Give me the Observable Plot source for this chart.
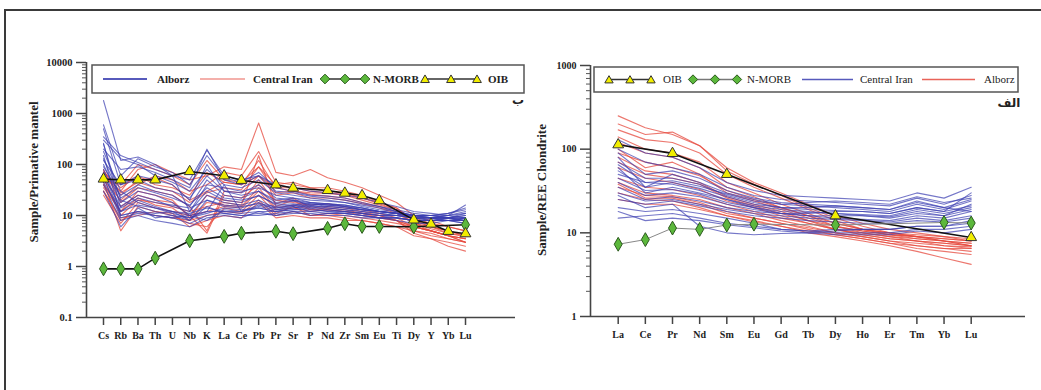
<!DOCTYPE html>
<html><head><meta charset="utf-8">
<script src="https://cdn.jsdelivr.net/npm/d3@7"></script>
<script src="https://cdn.jsdelivr.net/npm/@observablehq/plot@0.6"></script>
<style>
body{margin:0;background:#fff;width:1041px;height:390px;overflow:hidden;position:relative;font-family:"Liberation Serif","Times New Roman",serif}
#frame{position:absolute;left:4px;top:9px;width:1100px;height:500px;border-top:2px solid #3a3a3a;border-left:2px solid #3a3a3a}
.panel{position:absolute;top:40px}
.panel svg text{font-weight:bold}
.ytitle{position:absolute;font-weight:bold;font-size:13px;white-space:nowrap;transform:translate(-50%,-50%) rotate(-90deg);color:#222}
.ar{position:absolute;font-family:"DejaVu Sans",sans-serif;font-weight:bold;font-size:12px;color:#222;transform:translate(-50%,-50%)}
.leg{position:absolute}
</style></head>
<body>
<div id="frame"></div>
<div id="left" class="panel" style="left:0px"></div>
<div id="right" class="panel" style="left:520px"></div>
<div class="ytitle" style="left:34px;top:172px">Sample/Primative mantel</div>
<div class="ytitle" style="left:542px;top:190px">Sample/REE Chondrite</div>
<div class="ar" style="left:518px;top:100px">ب</div>
<div class="ar" style="left:1009px;top:103px">الف</div>
<script>
// ---------- DATA ----------
const leftCats = ["Cs","Rb","Ba","Th","U","Nb","K","La","Ce","Pb","Pr","Sr","P","Nd","Zr","Sm","Eu","Ti","Dy","Y","Yb","Lu"];
const rightCats = ["La","Ce","Pr","Nd","Sm","Eu","Gd","Tb","Dy","Ho","Er","Tm","Yb","Lu"];

// Left: primitive-mantle normalised, Alborz (blue)
const alborzLeft = [
  [1800,120,140,100,60,50,190,60,50,60,40,35,30,28,25,22,18,15,12,11,10,9],
  [600,60,130,90,70,40,150,55,45,70,35,30,25,24,22,18,15,12,10,9,9,8],
  [300,130,100,60,45,30,80,40,35,50,28,25,22,20,18,16,14,12,10,9,8,8],
  [250,20,15,12,10,9,12,40,12,14,12,14,15,13,12,11,10,10,9,9,10,12],
  [150,10,12,10,9,10,12,12,11,12,12,13,14,12,11,10,9,9,8,8,9,10],
  [80,12,20,15,12,8,20,15,14,18,13,15,12,13,12,11,10,9,8,8,8,7],
  [120,40,60,50,40,20,100,30,28,40,22,20,18,17,16,14,12,11,9,8,8,7],
  [60,15,25,20,15,12,30,20,18,25,16,17,15,15,14,13,12,11,10,10,11,14],
  [200,80,90,70,50,35,200,50,40,60,30,28,24,22,20,17,15,13,11,10,9,8],
  [40,8,10,8,7,6,9,10,9,12,10,11,11,10,10,9,9,8,7,7,8,9],
  [90,25,40,30,25,15,50,25,22,30,18,20,16,17,15,14,12,11,10,9,9,8],
  [350,150,110,80,60,12,40,35,30,35,25,22,20,19,18,15,13,12,10,10,9,9],
  [70,10,12,11,12,10,8,13,12,15,13,14,16,14,13,12,11,10,9,9,10,16],
  [500,40,50,35,30,22,60,30,25,30,20,22,18,17,16,14,12,11,10,9,8,8],
  [30,6,14,9,10,8,15,11,10,10,11,12,10,11,11,10,9,9,8,8,9,11],
  [100,18,30,25,18,10,25,18,16,20,14,16,14,14,13,12,11,10,9,8,8,8],
  [180,30,18,14,12,11,14,12,12,16,14,15,17,15,14,13,12,11,10,10,11,13],
  [45,12,16,14,11,9,11,14,13,14,12,13,13,12,12,11,10,10,9,9,9,10],
  [260,14,22,18,16,14,20,16,15,17,15,16,18,16,15,13,12,11,10,10,10,11],
  [130,22,35,28,22,16,35,22,20,24,17,19,17,16,15,13,12,11,9,9,9,9],
  [55,9,11,10,9,7,10,11,10,11,10,12,12,11,11,10,9,9,8,8,8,9]
];
// Left: Central Iran (red)
const centralLeft = [
  [60,30,80,100,70,50,60,90,80,650,70,60,80,55,45,35,25,18,10,8,6,5],
  [50,20,40,60,50,30,40,70,60,180,45,40,35,35,30,25,18,14,8,6,5,4],
  [40,15,25,20,18,10,4.5,25,22,40,20,18,16,17,15,13,11,9,6,5,4,3],
  [55,10,20,18,15,12,15,18,16,150,15,20,13,14,13,11,10,8,5,4.5,3.5,3],
  [30,8,12,10,9,8,10,12,11,20,10,12,10,10,9,8,7,6,5,4,3.5,3],
  [70,35,60,40,35,25,70,45,40,60,35,30,28,27,25,20,16,13,9,7,6,5],
  [45,5,15,12,10,7,6,14,12,25,11,15,10,11,10,9,8,7,6,5,4,3],
  [65,25,50,55,40,20,30,45,40,120,35,35,30,28,26,22,17,13,7,5,4,3.5],
  [35,12,30,25,20,9,25,20,18,50,17,22,14,15,14,12,10,8,4.5,3.5,2.5,2],
  [50,40,100,80,60,40,120,50,45,90,40,45,35,30,28,22,18,14,8,6,5,4],
  [25,7,18,14,12,10,12,15,14,30,13,14,12,13,12,10,9,8,6,5,4,3.5],
  [80,18,35,30,25,15,5,30,28,60,25,28,22,22,20,17,14,11,7,6,4.5,4],
  [40,12,22,16,14,8,18,16,15,35,14,16,13,13,12,11,9,8,6,5,4,3.5],
  [30,9,10,12,11,6,8,10,9,18,9,10,9,9,8,8,7,6,4,3.5,3,2.5],
  [75,28,45,35,30,18,28,35,32,90,28,30,26,24,22,18,15,12,7,5.5,4.5,3.8]
];
// Left reference patterns
const oibLeftEls = ["Cs","Rb","Ba","Th","Nb","La","Ce","Pr","Sr","Nd","Zr","Sm","Eu","Dy","Y","Yb","Lu"];
const oibLeftVals = [52,50,50,50,73,60,49,40,34.6,31,27.5,24.6,19.6,8.2,6.8,4.9,4.4];
const morbLeftEls = ["Cs","Rb","Ba","Th","Nb","La","Ce","Pr","Sr","Nd","Zr","Sm","Eu","Dy","Lu"];
const morbLeftVals = [0.9,0.9,0.9,1.46,3.2,3.9,4.5,4.9,4.4,5.6,6.9,6.1,6.1,6.0,6.6];
const leftMajor = [0.1,1,10,100,1000,10000];

// Right: chondrite normalised REE, Central Iran (blue)
const centralRight = [
  [130,90,80,60,40,32,28,27,26,25,24,30,26,35],
  [100,70,60,50,35,28,25,24,23,22,21,26,22,28],
  [80,35,50,40,30,25,22,21,20,19,18,22,19,24],
  [60,30,35,30,25,21,19,18,17,16.5,16,19,17,20],
  [50,40,38,32,25,20,17,16,15,14.5,14,16,15,18],
  [40,28,30,27,22,19,17,16,16,16,15.5,18,16,22],
  [30,24,25,22,19,17,16,15,14.5,14,13.5,15,14,16],
  [20,18,19,17,15,13,11,10.5,11,11,11,12,12,13],
  [15,16,17,15,13,12,11,10.5,10,10,10,11,11,12],
  [70,45,45,38,28,23,20,19,18.5,18,17,20,18,21],
  [90,50,55,45,32,26,23,22,21,20,19,23,20,25],
  [35,25,27,24,20,18,17,17,18,18,17,20,18,30],
  [25,22,24,21,18,16,15,14,13.5,13,13,14,13.5,15],
  [55,35,40,34,27,22,20,20,21,20,19,24,20,18],
  [45,32,33,29,23,20,18,17.5,17,16,15,17,16,19],
  [18,14,15,14,12.5,11.5,10.5,10,9.5,9.5,9.5,10.5,10,11],
  [28,20,22,12,10,9.5,9.8,10,10.5,11,11,12,12,14],
  [65,40,42,36,29,24,22,23,24,23,22,27,23,26]
];
// Right: Alborz (red)
const alborzRight = [
  [250,180,150,110,60,40,30,22,16,13,11,10,9,8],
  [200,150,160,110,55,38,28,20,15,12,10,9,8,7],
  [170,130,120,90,50,35,26,19,14,11,9.5,9,8,7.5],
  [140,100,90,70,40,30,22,17,13,11,10,9,8.5,8],
  [120,90,80,60,35,27,20,16,12,10.5,9.5,8.5,8,7],
  [100,60,70,50,30,24,19,15,12,10,9,8,7.5,7],
  [80,55,50,40,27,22,18,14,11,9.5,8.5,8,7,6.5],
  [60,45,40,33,24,20,16,13,11,9.5,8.5,8,7.5,7],
  [40,30,28,25,20,17,14,12,10,9,8,7,6.5,6.5],
  [35,28,27,23,18,15,13,11,9.5,8.5,7.5,7,6.5,6],
  [30,25,24,20,16,14,12,10,9,8,7,6,5,4.2],
  [45,35,33,28,22,18,15,13,11,10,9,8.5,8,7.5],
  [70,50,45,38,26,21,17,14,12,10.5,9.5,9,8.5,8],
  [25,22,22,19,16,13.5,12,10.5,9.5,8.5,7.5,6.5,6,5.5],
  [90,70,60,48,32,25,20,16,13,11,10,9.5,9,8.5],
  [38,26,26,22,17,15,13,11.5,10,9,8,7.5,7,6.8]
];
const oibRightEls = ["La","Pr","Sm","Dy","Lu"];
const oibRightVals = [113,89,50,16,8.8];
const morbRightEls = ["La","Ce","Pr","Nd","Sm","Eu","Dy","Yb","Lu"];
const morbRightVals = [7.3,8.3,11.4,11,12.4,12.7,12.4,13.3,13.1];
const rightMajor = [1,10,100,1000];

// ---------- HELPERS ----------
const BLUE = "#3a3db0", RED = "#e5483c", YEL = "#f2ee00", GRN = "#5cb83c";
function rows(series){ return series.flatMap((vals,k)=>vals.map((v,i)=>({id:k,i,v}))); }
function refRows(els, vals, cats){ return els.map((e,j)=>({i:cats.indexOf(e), v:vals[j]})); }
function minors(lo, hi){ const out=[]; for(let d=lo; d<hi; d*=10) for(let m=2;m<10;m++) out.push(+(d*m).toPrecision(3)); return out; }

function panel(opts){
  const {cats, width, marginLeft, marginRight, marginTop, marginBottom, xdom, ydom, major, blue, red, oib, morb, morbLine, xFont, yFont} = opts;
  return Plot.plot({
    width, height: 320, marginLeft, marginRight, marginTop, marginBottom,
    style: {fontFamily: '"Liberation Serif", serif', fontWeight: "bold", color: "#222", background: "transparent", overflow: "visible"},
    x: {domain: xdom, axis: null},
    y: {type: "log", domain: ydom, axis: null},
    marks: [
      Plot.line(rows(red), {x: "i", y: "v", z: "id", stroke: RED, strokeWidth: 1.1, strokeOpacity: 0.75}),
      Plot.line(rows(blue), {x: "i", y: "v", z: "id", stroke: BLUE, strokeWidth: 1.1, strokeOpacity: 0.7}),
      Plot.line(oib, {x: "i", y: "v", stroke: "#111", strokeWidth: 1.6}),
      Plot.line(morb, {x: "i", y: "v", stroke: morbLine.color, strokeWidth: morbLine.width}),
      Plot.dot(morb, {x: "i", y: "v", symbol: "diamond", r: 4.2, fill: GRN, stroke: "#2c5a1e", strokeWidth: 1}),
      Plot.dot(oib, {x: "i", y: "v", symbol: "triangle", r: 4, fill: YEL, stroke: "#333", strokeWidth: 1}),
      Plot.ruleX([xdom[0]], {stroke: "#444", strokeWidth: 1.6}),
      Plot.ruleY([ydom[0]], {stroke: "#444", strokeWidth: 1.6}),
      Plot.axisY({ticks: major, tickSize: 10, tickPadding: 4, tickFormat: d => String(d), fontSize: yFont, fontWeight: "bold", stroke: "#444", strokeWidth: 1.5, label: null}),
      Plot.axisY({ticks: minors(ydom[0], ydom[1]), tickSize: 4, tickFormat: () => "", stroke: "#555", strokeWidth: 1, label: null}),
      Plot.axisX({ticks: d3.range(cats.length), tickSize: 8, tickPadding: 6, tickFormat: i => cats[i], fontSize: xFont, fontWeight: "bold", stroke: "#444", strokeWidth: 1.5, label: null})
    ]
  });
}

document.getElementById("left").append(panel({
  cats: leftCats, width: 520, marginLeft: 86, marginRight: 5, marginTop: 22, marginBottom: 43,
  xdom: [-0.986, 23.9], ydom: [0.1, 10000], major: leftMajor,
  blue: alborzLeft, red: centralLeft,
  oib: refRows(oibLeftEls, oibLeftVals, leftCats), morb: refRows(morbLeftEls, morbLeftVals, leftCats),
  morbLine: {color: "#111", width: 1.6}, xFont: 10, yFont: 10.5
}));
document.getElementById("right").append(panel({
  cats: rightCats, width: 521, marginLeft: 70, marginRight: 16, marginTop: 25, marginBottom: 44,
  xdom: [-1.02, 15.0], ydom: [1, 1000], major: rightMajor,
  blue: centralRight, red: alborzRight,
  oib: refRows(oibRightEls, oibRightVals, rightCats), morb: refRows(morbRightEls, morbRightVals, rightCats),
  morbLine: {color: "#888", width: 1}, xFont: 10, yFont: 10
}));

// ---------- LEGENDS ----------
function legend(left, top, w, h, items, font){
  const svg = d3.select("body").append("svg").attr("class","leg")
    .style("left", left+"px").style("top", top+"px").attr("width", w+2).attr("height", h+2);
  svg.append("rect").attr("x",1).attr("y",1).attr("width",w).attr("height",h).attr("fill","#fff").attr("stroke","#555").attr("stroke-width",1.5);
  const cy = h/2 + 1;
  for (const it of items){
    if (it.type === "line"){
      svg.append("line").attr("x1",it.x0).attr("x2",it.x1).attr("y1",cy).attr("y2",cy).attr("stroke",it.color).attr("stroke-width",it.w||1.5).attr("stroke-opacity",0.85);
    } else if (it.type === "sym"){
      const xs = [it.x0, (it.x0+it.x1)/2, it.x1];
      svg.append("line").attr("x1",it.x0).attr("x2",it.x1).attr("y1",cy).attr("y2",cy).attr("stroke",it.line).attr("stroke-width",1.3);
      const path = d3.symbol(it.sym, it.size)();
      for (const x of xs) svg.append("path").attr("d",path).attr("transform",`translate(${x},${cy + (it.dy||0)})`).attr("fill",it.fill).attr("stroke",it.stroke).attr("stroke-width",1);
    } else {
      svg.append("text").attr("x",it.x).attr("y",cy).attr("dy","0.35em").text(it.text)
        .attr("font-family",'"Liberation Serif", serif').attr("font-size",font.size).attr("font-weight",font.weight).attr("fill","#222");
    }
  }
}
legend(91, 64, 432, 28, [
  {type:"line", x0:12, x1:56, color:BLUE, w:1.8},
  {type:"text", x:66, text:"Alborz"},
  {type:"line", x0:109, x1:154, color:RED, w:1.2},
  {type:"text", x:162, text:"Central Iran"},
  {type:"sym", x0:234, x1:274, sym:d3.symbolDiamond2, size:60, fill:GRN, stroke:"#2c5a1e", line:"#333"},
  {type:"text", x:282, text:"N-MORB"},
  {type:"sym", x0:334, x1:386, sym:d3.symbolTriangle2, size:55, dy:1, fill:YEL, stroke:"#333", line:"#333"},
  {type:"text", x:397, text:"OIB"}
], {size: 11, weight: "bold"});
legend(593, 66, 424, 25, [
  {type:"sym", x0:16, x1:58, sym:d3.symbolTriangle2, size:50, dy:1, fill:YEL, stroke:"#333", line:"#333"},
  {type:"text", x:70, text:"OIB"},
  {type:"sym", x0:100, x1:144, sym:d3.symbolDiamond2, size:55, fill:GRN, stroke:"#2c5a1e", line:"#777"},
  {type:"text", x:154, text:"N-MORB"},
  {type:"line", x0:209, x1:260, color:BLUE, w:1.3},
  {type:"text", x:267, text:"Central Iran"},
  {type:"line", x0:329, x1:382, color:RED, w:1.3},
  {type:"text", x:391, text:"Alborz"}
], {size: 11, weight: "normal"});
</script>
</body></html>
